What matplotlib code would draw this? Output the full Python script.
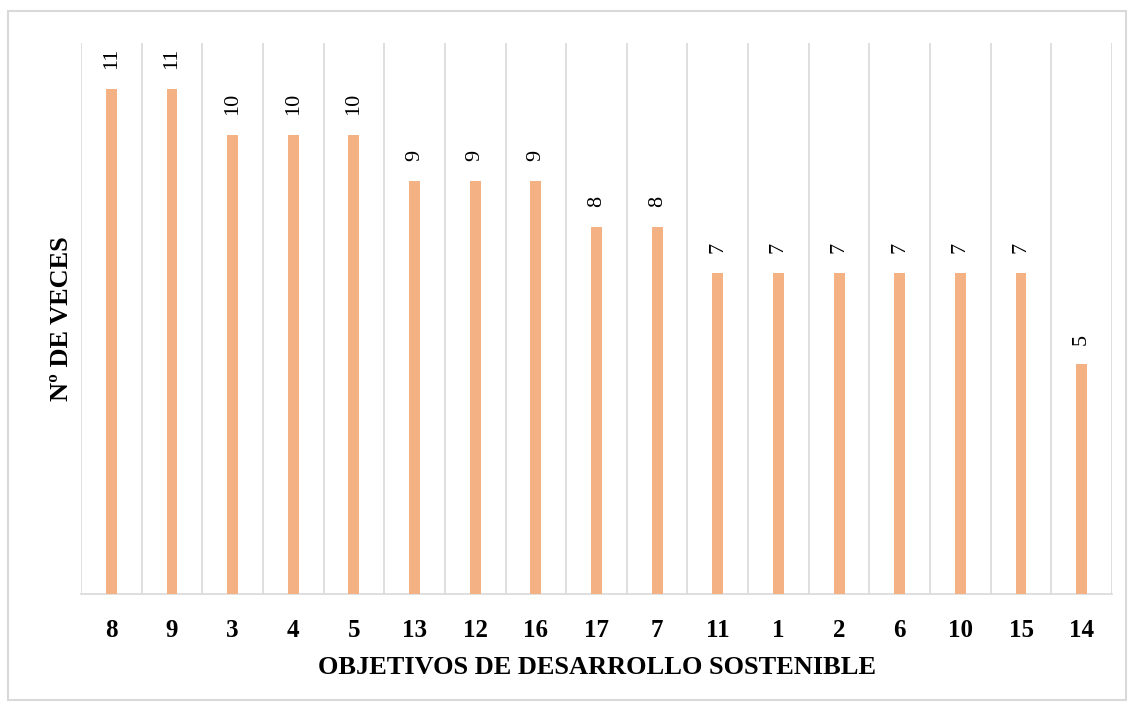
import matplotlib
matplotlib.use("Agg")
import matplotlib.pyplot as plt
from matplotlib.patches import Rectangle
import numpy as np

plt.rcParams['font.family'] = ['Liberation Serif', 'DejaVu Serif']

ods = ["8", "9", "3", "4", "5", "13", "12", "16", "17", "7", "11", "1", "2", "6", "10", "15", "14"]
veces = [11, 11, 10, 10, 10, 9, 9, 9, 8, 8, 7, 7, 7, 7, 7, 7, 5]

BAR_COLOR = "#F4B183"
GRID_COLOR = "#D9D9D9"

fig = plt.figure(figsize=(11.34, 7.11), dpi=100)
ax = fig.add_axes([81 / 1134, 1 - 594 / 711, 1031 / 1134, 551 / 711])

x = np.arange(len(ods))
ax.bar(x, veces, width=0.18, color=BAR_COLOR, zorder=3)

for xi, v in zip(x, veces):
    ax.annotate(str(v), (xi, v), xytext=(0, 14), textcoords="offset points",
                rotation=90, ha="center", va="bottom", fontsize=16)

# vertical separators between categories
for b in np.arange(len(ods) + 1) - 0.5:
    ax.axvline(b, color=GRID_COLOR, lw=1.2, zorder=1)

ax.set_xlim(-0.5, len(ods) - 0.5)
ax.set_ylim(0, 12)
ax.set_xticks(x)
ax.set_xticklabels(ods, fontsize=18, fontweight="bold")
ax.tick_params(axis="x", length=0, pad=18)
ax.set_yticks([])
for side in ["top", "right", "left"]:
    ax.spines[side].set_visible(False)
ax.spines["bottom"].set_color(GRID_COLOR)
ax.spines["bottom"].set_linewidth(1.2)

ax.set_xlabel("OBJETIVOS DE DESARROLLO SOSTENIBLE", fontsize=19, fontweight="bold")
ax.xaxis.label.set_va("center")
ax.xaxis.set_label_coords(0.5, (594 - 667) / 551)
ax.set_ylabel("Nº DE VECES", fontsize=19, fontweight="bold")
ax.yaxis.label.set_va("center")
ax.yaxis.set_label_coords((62 - 81) / 1031, 0.5)

fig.patches.append(Rectangle((8 / 1134, 1 - 700 / 711), 1118 / 1134, 689 / 711,
                             transform=fig.transFigure, fill=False,
                             edgecolor=GRID_COLOR, lw=1.5))

fig.savefig("out.png", dpi=100)
